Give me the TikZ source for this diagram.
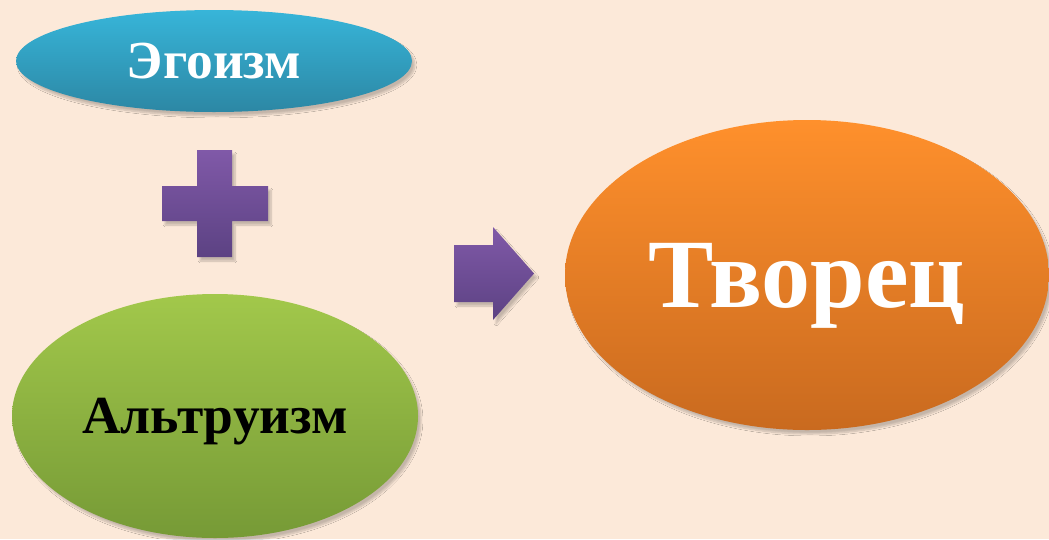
\documentclass[tikz,border=0pt]{standalone}
\usepackage{fontspec}
\setmainfont{Liberation Serif}
\usetikzlibrary{shapes.geometric,shadows.blur}
\definecolor{bgpeach}{HTML}{FCE9D9}
\definecolor{egotop}{HTML}{37B5D9}
\definecolor{egobot}{HTML}{2C87A4}
\definecolor{alttop}{HTML}{A2C84B}
\definecolor{altbot}{HTML}{769A36}
\definecolor{tvotop}{HTML}{FF902C}
\definecolor{tvobot}{HTML}{C96A1F}
\definecolor{plustop}{HTML}{8059A8}
\definecolor{plusbot}{HTML}{5C4283}
\begin{document}
\begin{tikzpicture}[x=1pt,y=-1pt,
  softshadow/.style={blur shadow={shadow xshift=3pt,shadow yshift=-4pt,shadow blur steps=8,shadow opacity=22}},
  oval/.style={ellipse,inner sep=0pt,text depth=0pt,softshadow}]
\fill[bgpeach] (0,0) rectangle (1049,539);
\useasboundingbox (0,0) rectangle (1049,539);
% left column
\node[oval,minimum width=396pt,minimum height=102pt,top color=egotop,bottom color=egobot,
  text=white,font=\bfseries\fontsize{53.5}{60}\selectfont] (ego) at (214,61) {Эгоизм};
\shade[softshadow,top color=plustop,bottom color=plusbot]
  (197,150) -- (232,150) -- (232,186) -- (268,186) -- (268,221) -- (232,221)
  -- (232,257) -- (197,257) -- (197,221) -- (162,221) -- (162,186) -- (197,186) -- cycle;
\node[oval,minimum width=406pt,minimum height=244pt,top color=alttop,bottom color=altbot,
  text=black,font=\bfseries\fontsize{53.5}{60}\selectfont] (alt) at (215,416) {Альтруизм};
% result
\shade[softshadow,top color=plustop,bottom color=plusbot]
  (454,245) -- (493,245) -- (493,227) -- (534,273.5) -- (493,320) -- (493,302) -- (454,302) -- cycle;
\node[oval,minimum width=484pt,minimum height=310pt,top color=tvotop,bottom color=tvobot,
  text=white,font=\bfseries\fontsize{98}{110}\selectfont] (tvo) at (807,275) {Творец};
\end{tikzpicture}
\end{document}
